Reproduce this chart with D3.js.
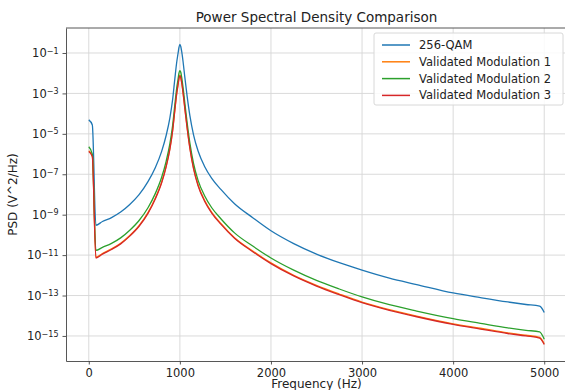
<!DOCTYPE html>
<html>
<head>
<meta charset="utf-8">
<script src="https://cdn.jsdelivr.net/npm/d3@7"></script>
<style>
  body { margin: 0; background: #fff; }
  svg { font-family: "DejaVu Sans", sans-serif; }
</style>
</head>
<body>
<svg id="chart" width="565" height="390"></svg>
<script>
// frequency bins (Hz) shared by all series
var freqs = [0, 39, 78, 150, 250, 350, 450, 550, 650, 730, 800, 850, 890, 920, 945, 965, 980, 990, 1000, 1010, 1020, 1035, 1055, 1080, 1110, 1150, 1200, 1270, 1350, 1450, 1600, 1800, 2000, 2250, 2500, 2750, 3000, 3300, 3600, 4000, 4300, 4600, 4800, 4950, 5000];

var qam256 = [4.9e-5, 2.75e-5, 3.0e-10, 4.6e-10, 7.2e-10, 1.35e-9, 3.2e-9, 9.5e-9, 4.3e-8, 2.1e-7, 1.35e-6, 8.5e-6, 6.0e-5, 4.8e-4, 5.4e-3, 3.4e-2, 9.5e-2, 1.9e-1, 2.7e-1, 2.1e-1, 1.2e-1, 3.8e-2, 6.0e-3, 7.1e-4, 7.9e-5, 8.9e-6, 1.41e-6, 2.5e-7, 6.3e-8, 1.78e-8, 3.5e-9, 7.1e-10, 1.6e-10, 3.7e-11, 1.12e-11, 4.2e-12, 1.8e-12, 7.2e-13, 3.5e-13, 1.35e-13, 7.9e-14, 4.8e-14, 3.6e-14, 2.95e-14, 1.45e-14];

var validated1 = [1.45e-6, 8.2e-7, 7.8e-12, 1.2e-11, 2.05e-11, 3.9e-11, 9.4e-11, 2.8e-10, 1.26e-9, 6.5e-9, 4.1e-8, 2.6e-7, 1.85e-6, 1.45e-5, 1.62e-4, 1.03e-3, 2.9e-3, 5.8e-3, 8.0e-3, 6.5e-3, 3.7e-3, 1.15e-3, 1.85e-4, 2.1e-5, 2.1e-6, 2.1e-7, 3.0e-8, 5.3e-9, 1.32e-9, 3.7e-10, 7.3e-11, 1.6e-11, 4.1e-12, 1.0e-12, 3.2e-13, 1.19e-13, 4.75e-14, 2.0e-14, 9.6e-15, 4.0e-15, 2.4e-15, 1.42e-15, 1.08e-15, 8.5e-16, 4.1e-16];

var validated2 = [2.3e-6, 1.0e-6, 1.7e-11, 2.4e-11, 3.8e-11, 7.1e-11, 1.7e-10, 5.0e-10, 2.2e-9, 1.1e-8, 7.1e-8, 4.5e-7, 3.2e-6, 2.5e-5, 2.8e-4, 1.8e-3, 5.0e-3, 1.0e-2, 1.35e-2, 1.12e-2, 6.3e-3, 2.0e-3, 3.2e-4, 3.5e-5, 3.5e-6, 3.5e-7, 5.0e-8, 8.9e-9, 2.2e-9, 6.3e-10, 1.26e-10, 2.8e-11, 7.2e-12, 1.8e-12, 5.6e-13, 2.1e-13, 8.5e-14, 3.5e-14, 1.7e-14, 7.1e-15, 4.2e-15, 2.5e-15, 1.9e-15, 1.6e-15, 6.9e-16];

var validated3 = [1.35e-6, 7.6e-7, 7.2e-12, 1.12e-11, 1.9e-11, 3.6e-11, 8.7e-11, 2.6e-10, 1.17e-9, 6.0e-9, 3.8e-8, 2.4e-7, 1.7e-6, 1.35e-5, 1.5e-4, 9.5e-4, 2.7e-3, 5.4e-3, 7.4e-3, 6.0e-3, 3.4e-3, 1.07e-3, 1.7e-4, 1.9e-5, 1.9e-6, 1.9e-7, 2.7e-8, 4.8e-9, 1.2e-9, 3.4e-10, 6.8e-11, 1.48e-11, 3.8e-12, 9.3e-13, 2.95e-13, 1.1e-13, 4.4e-14, 1.86e-14, 8.9e-15, 3.7e-15, 2.2e-15, 1.32e-15, 1.0e-15, 7.9e-16, 3.8e-16];

var seriesNames = ["256-QAM", "Validated Modulation 1", "Validated Modulation 2", "Validated Modulation 3"];
var seriesColors = ["#1f77b4", "#ff7f0e", "#2ca02c", "#d62728"];
var xTicks = [0, 1000, 2000, 3000, 4000, 5000];
var yTickExps = [-1, -3, -5, -7, -9, -11, -13, -15];

var series = [qam256, validated1, validated2, validated3].map(function (vals, i) {
  return { name: seriesNames[i], color: seriesColors[i], values: vals.map(function (v, j) { return { f: freqs[j], p: v }; }) };
});

// set the dimensions of the plot area
var margin = { top: 28, right: -2, bottom: 29, left: 66 },
  width = 565 - margin.left - margin.right,
  height = 390 - margin.top - margin.bottom;

var x = d3.scaleLinear().domain([-250, 5250]).range([0, width]);
var y = d3.scaleLog().domain([Math.pow(10, -16.24), Math.pow(10, 0.237)]).range([height, 0]);

var svg = d3.select("#chart");
var g = svg.append("g").attr("transform", "translate(" + margin.left + "," + margin.top + ")");

// grid
g.append("g")
  .selectAll("line")
  .data(xTicks)
  .enter()
  .append("line")
  .attr("x1", function (d) { return x(d); })
  .attr("x2", function (d) { return x(d); })
  .attr("y1", 0)
  .attr("y2", height)
  .attr("stroke", "#d6d6d6")
  .attr("stroke-width", 0.9);
g.append("g")
  .selectAll("line")
  .data(yTickExps)
  .enter()
  .append("line")
  .attr("x1", 0)
  .attr("x2", width)
  .attr("y1", function (d) { return y(Math.pow(10, d)); })
  .attr("y2", function (d) { return y(Math.pow(10, d)); })
  .attr("stroke", "#d6d6d6")
  .attr("stroke-width", 0.9);

// lines
var valueline = d3.line()
  .x(function (d) { return x(d.f); })
  .y(function (d) { return y(d.p); })
  .curve(d3.curveMonotoneX);

g.selectAll(".line")
  .data(series)
  .enter()
  .append("path")
  .attr("class", "line")
  .attr("fill", "none")
  .attr("stroke", function (d) { return d.color; })
  .attr("stroke-width", 1.3)
  .attr("d", function (d) { return valueline(d.values); });

// axes
var xAxis = g.append("g")
  .attr("class", "xaxis")
  .attr("transform", "translate(0," + height + ")")
  .call(d3.axisBottom(x).tickValues(xTicks).tickSizeInner(3.5).tickSizeOuter(0).tickPadding(4).tickFormat(d3.format("d")));
var yAxis = g.append("g")
  .attr("class", "yaxis")
  .call(d3.axisLeft(y).tickValues(yTickExps.map(function (e) { return Math.pow(10, e); })).tickSizeInner(3.5).tickSizeOuter(0).tickPadding(4).tickFormat(""));

[xAxis, yAxis].forEach(function (ax) {
  ax.select(".domain").attr("stroke", "#444").attr("stroke-width", 0.9);
  ax.selectAll(".tick line").attr("stroke", "#444").attr("stroke-width", 0.9);
  ax.selectAll("text").attr("fill", "#222").style("font-size", "11.5px").style("font-family", "DejaVu Sans, sans-serif");
});

// y tick labels as 10 with superscript exponent
yAxis.selectAll(".tick").each(function (d, i) {
  var t = d3.select(this).select("text").attr("x", -7.5).attr("dy", "0.32em");
  t.text(null);
  t.append("tspan").text("10");
  t.append("tspan").attr("dy", "-0.45em").style("font-size", "8px").text("\u2212" + (-yTickExps[i]));
});

// top spine
g.append("line")
  .attr("x1", 0).attr("x2", width)
  .attr("y1", 0).attr("y2", 0)
  .attr("stroke", "#444").attr("stroke-width", 0.9);

// title and axis labels
svg.append("text")
  .attr("x", margin.left + width / 2)
  .attr("y", 22)
  .attr("text-anchor", "middle")
  .style("font-size", "13.5px")
  .attr("fill", "#222")
  .text("Power Spectral Density Comparison");

svg.append("text")
  .attr("x", margin.left + width / 2)
  .attr("y", 388)
  .attr("text-anchor", "middle")
  .style("font-size", "12px")
  .attr("fill", "#222")
  .text("Frequency (Hz)");

svg.append("text")
  .attr("transform", "translate(17," + (margin.top + height / 2) + ") rotate(-90)")
  .attr("text-anchor", "middle")
  .style("font-size", "12px")
  .attr("fill", "#222")
  .text("PSD (V^2/Hz)");

// legend
var legend = svg.append("g").attr("transform", "translate(374,33)");
legend.append("rect")
  .attr("width", 189).attr("height", 72)
  .attr("rx", 2)
  .attr("fill", "#fff").attr("fill-opacity", 0.85)
  .attr("stroke", "#d8d8d8");
var items = legend.selectAll(".item")
  .data(series)
  .enter()
  .append("g")
  .attr("class", "item")
  .attr("transform", function (d, i) { return "translate(0," + (12 + i * 16.8) + ")"; });
items.append("line")
  .attr("x1", 8).attr("x2", 36)
  .attr("stroke", function (d) { return d.color; })
  .attr("stroke-width", 1.5);
items.append("text")
  .attr("x", 45).attr("dy", "0.35em")
  .style("font-size", "11.5px")
  .attr("fill", "#222")
  .text(function (d) { return d.name; });
</script>
</body>
</html>
